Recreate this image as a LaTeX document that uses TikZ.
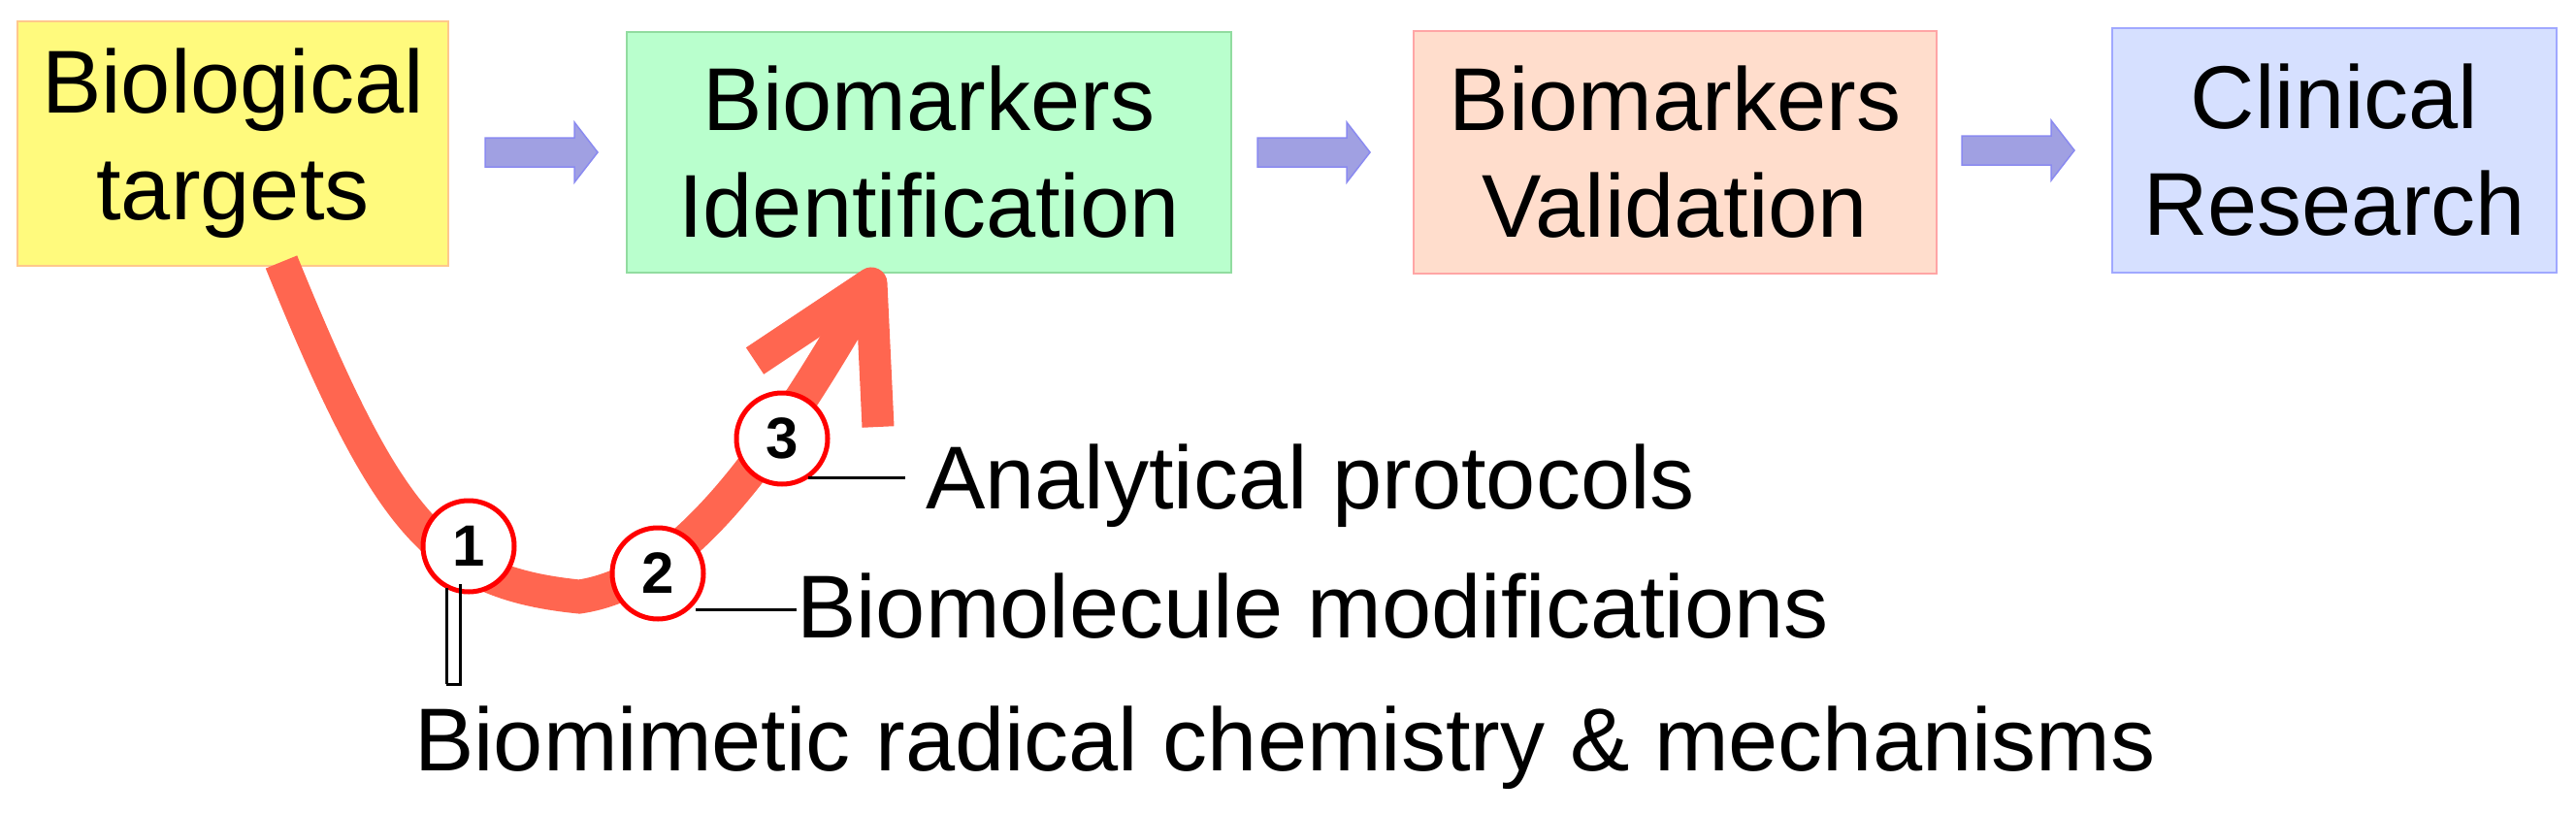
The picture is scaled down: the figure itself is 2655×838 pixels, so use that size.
\documentclass[tikz,border=0pt]{standalone}
\usepackage{fontspec}
\setmainfont{Liberation Sans}
\begin{document}
\begin{tikzpicture}[x=1pt,y=-1pt,
  box/.style={draw,line width=2pt,inner sep=0pt,align=center,font=\fontsize{92}{110}\selectfont},
  blk/.style={fill=arrowfill,draw=arrowdraw,line width=1.5pt},
  num/.style={circle,draw=red,line width=5pt,fill=white,minimum size=94pt,inner sep=0pt,font=\fontsize{60}{60}\selectfont\bfseries},
  lead/.style={line width=3pt},
  lab/.style={anchor=base west,inner sep=0pt,font=\fontsize{92}{110}\selectfont}]
\definecolor{arrowfill}{HTML}{A0A0E2}
\definecolor{arrowdraw}{HTML}{8A8AF0}
\definecolor{curve}{HTML}{FF6650}
\useasboundingbox (0,0) rectangle (2655,838);
\node[box,fill={rgb,255:red,255;green,250;blue,125},draw={rgb,255:red,255;green,200;blue,140},minimum width=444pt,minimum height=252pt] (b1) at (240,148) {Biological\\targets};
\node[box,fill={rgb,255:red,185;green,255;blue,205},draw={rgb,255:red,145;green,220;blue,160},minimum width=623pt,minimum height=248pt] (b2) at (957.5,157) {Biomarkers\\Identification};
\node[box,fill={rgb,255:red,255;green,221;blue,204},draw={rgb,255:red,255;green,165;blue,165},minimum width=539pt,minimum height=250pt] (b3) at (1726.5,157) {Biomarkers\\Validation};
\node[box,fill={rgb,255:red,214;green,224;blue,255},draw={rgb,255:red,160;green,168;blue,255},minimum width=458pt,minimum height=252pt] (b4) at (2406,155) {Clinical\\Research};
% block arrows
\foreach \x/\y in {500/157,1296/157,2022/155}{
  \draw[blk] (\x,\y-15) -- ++(92,0) -- ++(0,-16) -- ++(24,31) -- ++(-24,31) -- ++(0,-16) -- ++(-92,0) -- cycle;
}
% red curve
\coordinate (cs) at (290,270);
\coordinate (cm) at (597,615);
\coordinate (ce) at (893,300);
\draw[curve,line width=35pt] (cs) .. controls (400,540) and (450,600) .. (cm) .. controls (700,600) and (790,480) .. (ce);
\draw[curve,line width=33pt,line join=round] (778,372) -- (898,292) -- (905,440);
% circles
\node[num] (n1) at (483,563) {1};
\node[num] (n2) at (678,591) {2};
\node[num] (n3) at (806,452) {3};
% labels
\node[lab] (t1) at (427,794) {Biomimetic radical chemistry \& mechanisms};
\node[lab] (t2) at (821,657) {Biomolecule modifications};
\node[lab] (t3) at (954,524) {Analytical protocols};
\coordinate (l1) at (460,705);
\draw[lead] (n1.south west) ++(26,4) |- (l1);
\draw[lead] (n1) ++(-23,43) -- (l1);
\draw[lead] (n2) ++(39,37) -- (t2.west |- 0,628);
\draw[lead] (n3) ++(27,40) -- (933,492);
\end{tikzpicture}
\end{document}
